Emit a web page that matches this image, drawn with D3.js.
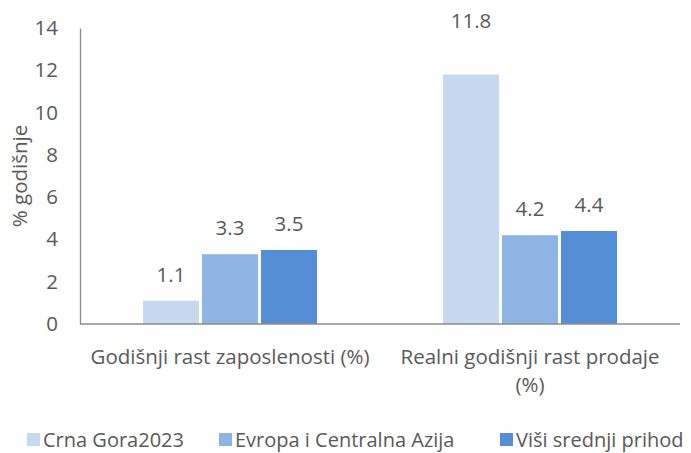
<!DOCTYPE html>
<html>
<head>
<meta charset="utf-8">
<script src="https://cdn.jsdelivr.net/npm/d3@7"></script>
<style>
  body { margin: 0; background: #fff; }
  svg text { font-family: "Open Sans", sans-serif; fill: #595959; }
</style>
</head>
<body>
<svg id="chart" width="691" height="453"></svg>
<script>
// Data
const categories = [["Godišnji rast zaposlenosti (%)"], ["Realni godišnji rast prodaje", "(%)"]];
const seriesNames = ["Crna Gora2023", "Evropa i Centralna Azija", "Viši srednji prihod"];
const crnaGora = [1.1, 11.8];
const evropa = [3.3, 4.2];
const visiSrednji = [3.5, 4.4];
const seriesValues = [crnaGora, evropa, visiSrednji];
const yTicks = [0, 2, 4, 6, 8, 10, 12, 14];
const colors = ["#c6d9f1", "#8eb4e3", "#558ed5"];

const fontSize = "20.5px";

const svg = d3.select("svg#chart");
const margin = { top: 28, right: 11, bottom: 129, left: 80 };
const width = 691 - margin.left - margin.right;
const height = 453 - margin.top - margin.bottom;

const g = svg.append("g")
    .attr("transform", `translate(${margin.left}, ${margin.top})`);

const x0 = d3.scaleBand()
    .domain(d3.range(categories.length))
    .range([0, width])
    .paddingInner(0.42)
    .paddingOuter(0.21);

const x1 = d3.scaleBand()
    .domain(d3.range(seriesNames.length))
    .range([0, x0.bandwidth()])
    .paddingInner(0.05);

const y = d3.scaleLinear()
    .domain([0, 14])
    .range([height, 0]);

// Y axis
const yAxis = g.append("g")
    .call(d3.axisLeft(y).tickValues(yTicks).tickSize(0).tickPadding(22));
yAxis.select(".domain").attr("stroke", "#8c8c8c").attr("stroke-width", 1.3);
yAxis.selectAll("text").attr("font-size", fontSize).style("font-family", "'Open Sans', sans-serif").attr("fill", "#595959");

// Y title
g.append("text")
    .attr("transform", "rotate(-90)")
    .attr("x", -148)
    .attr("y", -53)
    .attr("text-anchor", "middle")
    .attr("font-size", fontSize)
    .text("% godišnje");

// Bars
const groups = g.selectAll("g.cat")
    .data(categories)
    .enter()
    .append("g")
    .attr("class", "cat")
    .attr("transform", (d, i) => `translate(${x0(i)}, 0)`);

groups.selectAll("rect")
    .data((d, i) => seriesValues.map((s, j) => ({ s: j, v: s[i] })))
    .enter()
    .append("rect")
    .attr("x", d => x1(d.s))
    .attr("y", d => y(d.v))
    .attr("width", x1.bandwidth())
    .attr("height", d => height - y(d.v))
    .attr("fill", d => colors[d.s]);

// Data labels
groups.selectAll("text.label")
    .data((d, i) => seriesValues.map((s, j) => ({ s: j, v: s[i] })))
    .enter()
    .append("text")
    .attr("class", "label")
    .attr("x", d => x1(d.s) + x1.bandwidth() / 2)
    .attr("y", d => d.v > 10 ? y(14) : y(d.v) - 19)
    .attr("text-anchor", "middle")
    .attr("font-size", fontSize)
    .text(d => d.v.toFixed(1));

// X axis line
g.append("line")
    .attr("x1", 0).attr("x2", width)
    .attr("y1", height).attr("y2", height)
    .attr("stroke", "#8c8c8c")
    .attr("stroke-width", 1.3);

// Category labels
groups.each(function(lines, i) {
    const t = d3.select(this).append("text")
        .attr("text-anchor", "middle")
        .attr("font-size", fontSize);
    lines.forEach((line, k) => {
        t.append("tspan")
            .attr("x", x0.bandwidth() / 2)
            .attr("y", height + 40 + k * 28)
            .text(line);
    });
});

// Legend
const legendX = [27, 219, 500];
const legend = svg.append("g")
    .selectAll("g")
    .data(seriesNames)
    .enter()
    .append("g")
    .attr("transform", (d, i) => `translate(${legendX[i]}, 447)`);

legend.append("rect")
    .attr("x", 0).attr("y", -14)
    .attr("width", 13).attr("height", 13)
    .attr("fill", (d, i) => colors[i]);

legend.append("text")
    .attr("x", 16)
    .attr("y", 0)
    .attr("font-size", "20px")
    .text(d => d);
</script>
</body>
</html>
